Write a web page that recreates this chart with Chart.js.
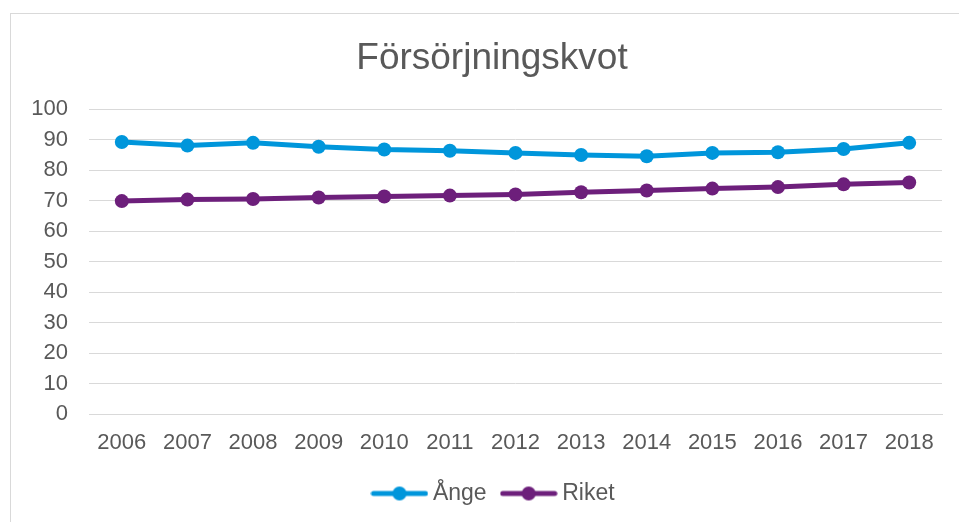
<!DOCTYPE html>
<html>
<head>
<meta charset="utf-8">
<script src="https://cdn.jsdelivr.net/npm/chart.js@4.4.1/dist/chart.umd.min.js"></script>
<style>
  html, body { margin: 0; padding: 0; background: #fff; overflow: hidden; }
  #frame { position: absolute; left: 10px; top: 13px; width: 1200px; height: 800px; border: 1px solid #d9d9d9; }
  #wrap { position: absolute; left: 0; top: 0; width: 959px; height: 522px; }
</style>
</head>
<body>
<div id="frame"></div>
<div id="wrap"><canvas id="chart" width="959" height="522"></canvas></div>
<script>
// data
const years = ['2006', '2007', '2008', '2009', '2010', '2011', '2012', '2013', '2014', '2015', '2016', '2017', '2018'];
const ange = [89.2, 88.0, 88.9, 87.6, 86.7, 86.3, 85.6, 84.9, 84.5, 85.6, 85.8, 86.9, 88.9];
const riket = [69.8, 70.3, 70.5, 71.0, 71.3, 71.6, 72.0, 72.7, 73.3, 73.9, 74.4, 75.3, 75.9];

const textColor = '#595959';
const gridColor = '#d9d9d9';
const blue = '#0096db';
const purple = '#6d1f7b';

// legend marker: line with a dot in the middle, like the Excel original
function legendMarker(color) {
  const c = document.createElement('canvas');
  c.width = 58;
  c.height = 16;
  const g = c.getContext('2d');
  g.strokeStyle = color;
  g.lineWidth = 5;
  g.lineCap = 'round';
  g.beginPath();
  g.moveTo(3, 8);
  g.lineTo(55, 8);
  g.stroke();
  g.fillStyle = color;
  g.beginPath();
  g.arc(29, 8, 7, 0, Math.PI * 2);
  g.fill();
  return c;
}
const markers = [legendMarker(blue), legendMarker(purple)];

// nudge title and legend a bit, as in the original
const boxShift = {
  id: 'boxShift',
  afterLayout(chart) {
    if (chart.legend) {
      chart.legend.left += 11;
      chart.legend.right += 11;
      chart.legend.top -= 2;
      chart.legend.bottom -= 2;
    }
    if (chart.titleBlock) {
      chart.titleBlock.left += 7;
      chart.titleBlock.right += 7;
    }
  }
};

Chart.defaults.font.family = '"Liberation Sans", Arial, sans-serif';
Chart.defaults.color = textColor;

new Chart(document.getElementById('chart').getContext('2d'), {
  type: 'line',
  data: {
    labels: years,
    datasets: [
      {
        label: 'Ånge',
        data: ange,
        borderColor: blue,
        backgroundColor: blue,
        borderWidth: 5,
        pointRadius: 7,
        pointHoverRadius: 7,
        pointBorderWidth: 0
      },
      {
        label: 'Riket',
        data: riket,
        borderColor: purple,
        backgroundColor: purple,
        borderWidth: 5,
        pointRadius: 7,
        pointHoverRadius: 7,
        pointBorderWidth: 0
      }
    ]
  },
  plugins: [boxShift],
  options: {
    responsive: false,
    animation: false,
    layout: { padding: { left: 28, right: 17, top: 0, bottom: 5 } },
    plugins: {
      title: {
        display: true,
        text: 'Försörjningskvot',
        color: textColor,
        font: { size: 37, weight: 'normal' },
        padding: { top: 37, bottom: 27.6 }
      },
      legend: {
        position: 'bottom',
        labels: {
          usePointStyle: true,
          pointStyleWidth: 44,
          padding: 20,
          color: textColor,
          font: { size: 23 },
          generateLabels(chart) {
            return Chart.defaults.plugins.legend.labels.generateLabels(chart).map((item, i) => {
              item.pointStyle = markers[i];
              return item;
            });
          }
        }
      },
      tooltip: { enabled: false }
    },
    scales: {
      x: {
        offset: true,
        grid: { display: false, drawTicks: false },
        border: { display: true, color: gridColor },
        ticks: { padding: 16, font: { size: 22 }, color: textColor, maxRotation: 0 },
        afterFit(scale) { scale.height = 50; }
      },
      y: {
        min: 0,
        max: 100,
        grid: { color: gridColor, drawTicks: false },
        border: { display: false },
        ticks: { stepSize: 10, padding: 21, font: { size: 22 }, color: textColor },
        afterFit(scale) { scale.width = 61; }
      }
    }
  }
});
</script>
</body>
</html>
